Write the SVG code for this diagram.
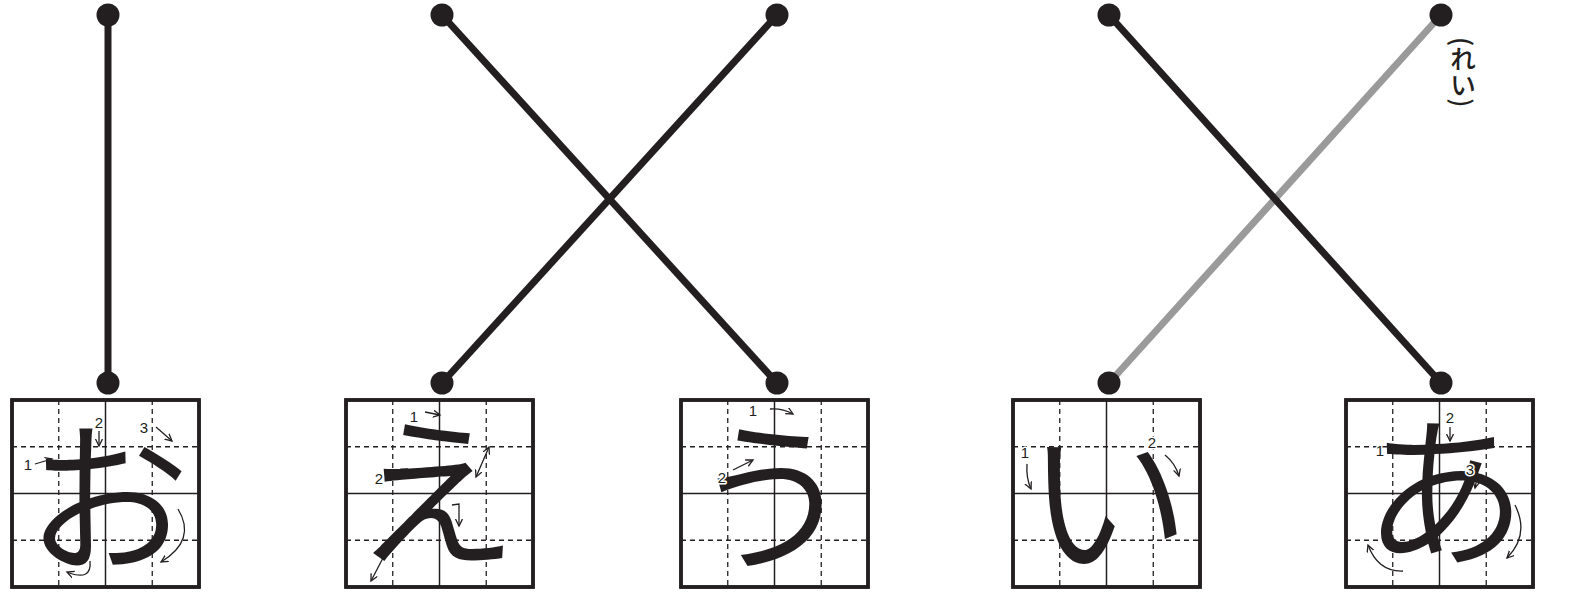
<svg xmlns="http://www.w3.org/2000/svg" xmlns:xlink="http://www.w3.org/1999/xlink" width="1573" height="597" viewBox="0 0 1573 597">
<style>
.ln{stroke:#231f20;stroke-width:7;fill:none}
.ln.gray{stroke:#9a9a9a}
.dot{fill:#231f20}
.box{fill:#fff;stroke:#231f20;stroke-width:3.5}
.solid{stroke:#231f20;stroke-width:1.5}
.dash{stroke:#231f20;stroke-width:1.3;stroke-dasharray:5 4}
.kana{font-family:"Noto Sans CJK JP","Noto Sans CJK SC",sans-serif;font-size:165px;font-weight:350;fill:#231f20;text-anchor:middle}
.num{font-family:"Liberation Sans",Arial,sans-serif;font-size:15px;fill:#231f20;text-anchor:middle;stroke:#fff;stroke-width:3;paint-order:stroke;stroke-linejoin:round}
.arr{stroke:#231f20;stroke-width:1.3;fill:none;marker-end:url(#ah)}
.arr2{stroke:#231f20;stroke-width:1.3;fill:none;marker-end:url(#ah);marker-start:url(#ah)}
.lbl{font-family:"Noto Sans CJK JP",sans-serif;font-size:26px;font-weight:500;fill:#231f20;writing-mode:vertical-rl}
</style>
<defs>
<marker id="ah" markerUnits="userSpaceOnUse" markerWidth="10" markerHeight="10" refX="7" refY="4" orient="auto-start-reverse">
<path d="M0,0.5 L7,4 L0,7.5" fill="none" stroke="#231f20" stroke-width="1.3"/>
</marker>
<g id="grid">
<rect class="box" x="0" y="0" width="187" height="187"/>
<line class="dash" x1="46.75" y1="0" x2="46.75" y2="187"/>
<line class="dash" x1="140.25" y1="0" x2="140.25" y2="187"/>
<line class="dash" x1="0" y1="46.75" x2="187" y2="46.75"/>
<line class="dash" x1="0" y1="140.25" x2="187" y2="140.25"/>
<line class="solid" x1="93.5" y1="0" x2="93.5" y2="187"/>
<line class="solid" x1="0" y1="93.5" x2="187" y2="93.5"/>
<rect x="0" y="0" width="187" height="187" fill="none" stroke="#231f20" stroke-width="3.5"/>
</g>
</defs>
<rect width="1573" height="597" fill="#fff"/>
<g id="connectors">
<path class="ln" d="M108,15 L108,383"/>
<path class="ln" d="M442,15 L777,383"/>
<path class="ln" d="M777,15 L442,383"/>
<path class="ln gray" d="M1441,15 L1109,383"/>
<path class="ln" d="M1109,15 L1441,383"/>
</g>
<g id="top-1"><circle class="dot" cx="108" cy="15" r="11.5"/></g>
<g id="top-2"><circle class="dot" cx="442" cy="15" r="11.5"/></g>
<g id="top-3"><circle class="dot" cx="777" cy="15" r="11.5"/></g>
<g id="top-4"><circle class="dot" cx="1109" cy="15" r="11.5"/></g>
<g id="top-5"><circle class="dot" cx="1441" cy="15" r="11.5"/>
<text class="lbl" x="1463" y="37">(れい)</text></g>
<g id="box-o">
<circle class="dot" cx="108" cy="383" r="11.5"/>
<use xlink:href="#grid" x="12" y="400"/>
<text class="kana" x="108" y="560">お</text>
<text class="num" x="28" y="470">1</text><path class="arr" d="M35,464 L52,459"/>
<text class="num" x="99" y="428">2</text><path class="arr" d="M99,431 L99,446"/>
<text class="num" x="144" y="433">3</text><path class="arr" d="M156,427 L172,441"/>
<path class="arr" d="M178,509 Q197,540 161,562"/>
<path class="arr" d="M90,561 Q92,582 67,572"/>
</g>
<g id="box-e">
<circle class="dot" cx="442" cy="383" r="11.5"/>
<use xlink:href="#grid" x="346" y="400"/>
<text class="kana" x="436" y="554">え</text>
<text class="num" x="414" y="422">1</text><path class="arr" d="M425,412 L440,415"/>
<path class="arr2" d="M489,447 L476,477"/>
<text class="num" x="379" y="484">2</text><path class="arr" d="M393,477 L407,469"/>
<path class="arr" d="M452,505 L459,504 L459,526"/>
<path class="arr" d="M384,556 L371,581"/>
</g>
<g id="box-u">
<circle class="dot" cx="777" cy="383" r="11.5"/>
<use xlink:href="#grid" x="681" y="400"/>
<text class="kana" x="772" y="558">う</text>
<text class="num" x="753" y="416">1</text><path class="arr" d="M770,409 Q782,408 793,414"/>
<text class="num" x="722" y="483">2</text><path class="arr" d="M733,470 L753,460"/>
</g>
<g id="box-i">
<circle class="dot" cx="1109" cy="383" r="11.5"/>
<use xlink:href="#grid" x="1013" y="400"/>
<text class="kana" x="1108" y="562">い</text>
<text class="num" x="1025" y="458">1</text><path class="arr" d="M1027,464 Q1026,478 1031,489"/>
<text class="num" x="1152" y="448">2</text><path class="arr" d="M1165,455 Q1175,463 1179,476"/>
</g>
<g id="box-a">
<circle class="dot" cx="1441" cy="383" r="11.5"/>
<use xlink:href="#grid" x="1346" y="400"/>
<text class="kana" x="1445" y="554">あ</text>
<text class="num" x="1380" y="456">1</text><path class="arr" d="M1390,449 L1409,449"/>
<text class="num" x="1450" y="423">2</text><path class="arr" d="M1450,427 L1450,441"/>
<text class="num" x="1470" y="475">3</text><path class="arr" d="M1477,478 L1475,488"/>
<path class="arr" d="M1515,505 Q1530,535 1507,558"/>
<path class="arr" d="M1403,571 Q1378,572 1368,545"/>
</g>
</svg>
